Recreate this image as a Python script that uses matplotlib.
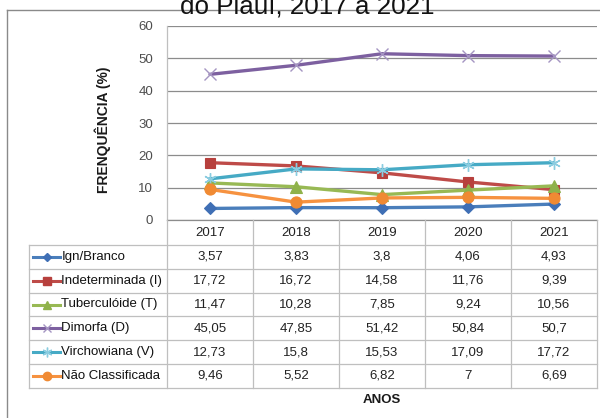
import matplotlib
matplotlib.use("Agg")
import matplotlib.pyplot as plt
from matplotlib.lines import Line2D
from matplotlib.transforms import blended_transform_factory

plt.rcParams['font.family'] = ['Liberation Sans', 'DejaVu Sans']

# ---------------- data ----------------
years = ["2017", "2018", "2019", "2020", "2021"]
series_names = ["Ign/Branco", "Indeterminada (I)", "Tuberculóide (T)",
                "Dimorfa (D)", "Virchowiana (V)", "Não Classificada"]
ign = [3.57, 3.83, 3.8, 4.06, 4.93]
indeterminada = [17.72, 16.72, 14.58, 11.76, 9.39]
tuberculoide = [11.47, 10.28, 7.85, 9.24, 10.56]
dimorfa = [45.05, 47.85, 51.42, 50.84, 50.7]
virchowiana = [12.73, 15.8, 15.53, 17.09, 17.72]
nao_class = [9.46, 5.52, 6.82, 7, 6.69]
yticks = [0, 10, 20, 30, 40, 50, 60]
title = "do Piauí, 2017 a 2021"
ylabel = "FRENQUÊNCIA (%)"
xlabel = "ANOS"

series_values = [ign, indeterminada, tuberculoide, dimorfa, virchowiana, nao_class]

# ---------------- styles ----------------
line_colors = ["#4A7EBB", "#BE4B48", "#98B954", "#7D60A0", "#46AAC5", "#F69240"]
marker_colors = ["#3F6FB5", "#B7403D", "#8FB24A", "#A595C2", "#8ACCE0", "#F08A33"]
markers = ["D", "s", "^", "x", (6, 2, 0), "o"]
msizes = [6.5, 7.5, 8, 8.5, 9, 8]
key_msizes = [4.5, 6, 6, 6, 7, 6]

W, H = 600, 418
fig = plt.figure(figsize=(W / 100, H / 100), dpi=100)

def fx(x):
    return x / W

def fy(y):
    return 1 - y / H

left, right, top, bottom = 167, 597, 26, 220
ax = fig.add_axes([fx(left), fy(bottom), fx(right - left), (bottom - top) / H])

xs = list(range(len(years)))
for i, vals in enumerate(series_values):
    thin = markers[i] in ("x",) or isinstance(markers[i], tuple)
    ax.plot(xs, vals, color=line_colors[i], lw=2.4, marker=markers[i],
            ms=msizes[i], mfc=marker_colors[i], mec=marker_colors[i],
            mew=1.0 if thin else 0.8, zorder=3 + i, solid_capstyle='round')

ax.set_xlim(-0.5, len(years) - 0.5)
ax.set_ylim(0, 60)
ax.set_yticks(yticks)
ax.set_yticklabels([str(t) for t in yticks], fontsize=9.5, color="#4D4D4D")
ax.tick_params(axis='y', length=0, pad=10)
ax.set_xticks([])
ax.grid(axis='y', color="#8C8C8C", lw=0.9)
ax.set_axisbelow(True)
for s in ["top", "right"]:
    ax.spines[s].set_visible(False)
ax.spines["left"].set_color("#BFBFBF")
ax.spines["bottom"].set_color("#8C8C8C")
ax.spines["left"].set_linewidth(0.9)
ax.spines["bottom"].set_linewidth(0.9)

fig.text(fx(102.5), fy(130), ylabel, rotation=90, ha='center', va='center',
         fontsize=10, fontweight='bold', color="#1a1a1a")

# ---------------- data table ----------------
tr = blended_transform_factory(ax.transData, fig.transFigure)
tab_left = 29
header_bottom = 245
row_h = 23.8
nrows = len(series_names)
row_edges = [header_bottom + k * row_h for k in range(nrows + 1)]
border_c = "#BFBFBF"

# vertical lines of value columns
for j in range(len(years) + 1):
    xd = j - 0.5
    fig.add_artist(Line2D([xd, xd], [fy(bottom), fy(row_edges[-1])],
                          transform=tr, color=border_c, lw=0.9))
# left border of label column
fig.add_artist(Line2D([fx(tab_left), fx(tab_left)], [fy(header_bottom), fy(row_edges[-1])],
                      transform=fig.transFigure, color=border_c, lw=0.9))
# horizontal lines
for yb in row_edges:
    fig.add_artist(Line2D([fx(tab_left), fx(right)], [fy(yb), fy(yb)],
                          transform=fig.transFigure, color=border_c, lw=0.9))

# header
for j, yr in enumerate(years):
    fig.text(j, fy((bottom + header_bottom) / 2), yr, transform=tr,
             ha='center', va='center', fontsize=9.5, color="#222222")

# rows
for i, name in enumerate(series_names):
    yc = fy((row_edges[i] + row_edges[i + 1]) / 2)
    fig.add_artist(Line2D([fx(33), fx(60)], [yc, yc], transform=fig.transFigure,
                          color=line_colors[i], lw=2.2))
    fig.add_artist(Line2D([fx(46.5)], [yc], transform=fig.transFigure,
                          marker=markers[i], ms=key_msizes[i], color=marker_colors[i],
                          mfc=marker_colors[i], mec=marker_colors[i], lw=0))
    fig.text(fx(61.5), yc, name, ha='left', va='center', fontsize=9.5, color="#111111")
    for j, v in enumerate(series_values[i]):
        txt = f"{v:g}".replace(".", ",")
        fig.text(j, yc, txt, transform=tr, ha='center', va='center',
                 fontsize=9.5, color="#222222")

fig.text(fx(382), fy(400), xlabel, ha='center', va='center',
         fontsize=9.5, fontweight='bold', color="#1a1a1a")

# outer chart border
fig.add_artist(Line2D([fx(7), fx(600)], [fy(9.5), fy(9.5)], transform=fig.transFigure,
                      color="#8A8A8A", lw=1))
fig.add_artist(Line2D([fx(7), fx(7)], [fy(9.5), fy(418)], transform=fig.transFigure,
                      color="#8A8A8A", lw=1))

# title (cut off at the top, as in the reference)
fig.text(fx(307), fy(13.5), title, ha='center', va='baseline', fontsize=18.7,
         color="#111111")

fig.savefig("out.png", dpi=100)
